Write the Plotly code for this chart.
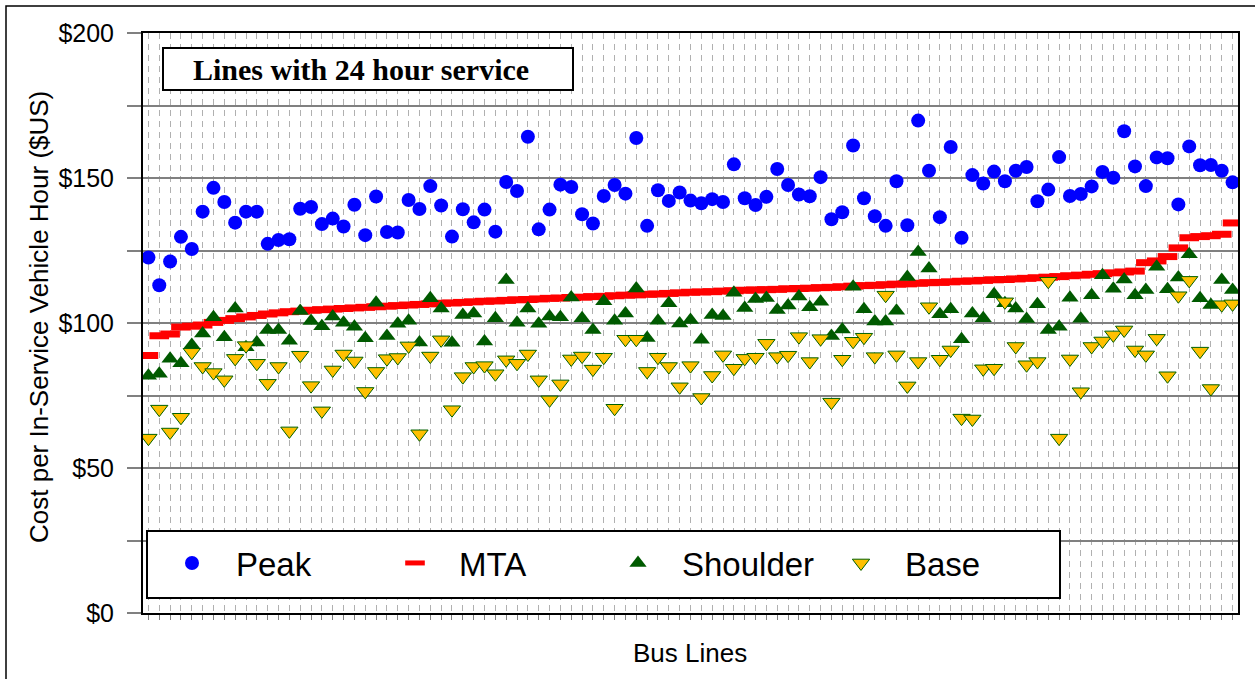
import plotly.graph_objects as go

# ---------------- data ----------------
bus_lines = list(range(1, 102))

peak = [
    122.6, 113.0, 121.2, 129.7, 125.5, 138.4, 146.6, 141.7, 134.6, 138.4,
    138.4, 127.3, 128.6, 128.9, 139.4, 140.0, 134.1, 136.0, 133.3, 140.8,
    130.3, 143.6, 131.4, 131.2, 142.4, 139.3, 147.2, 140.5, 129.8, 139.2,
    134.7, 139.1, 131.5, 148.6, 145.5, 164.2, 132.3, 139.1, 147.7, 146.9,
    137.5, 134.3, 143.8, 147.6, 144.6, 163.8, 133.5, 145.8, 142.1, 145.0,
    142.2, 141.3, 142.7, 141.7, 154.7, 143.0, 140.7, 143.5, 153.1, 147.6,
    144.3, 143.7, 150.3, 135.8, 138.2, 161.2, 143.0, 136.8, 133.5, 148.9,
    133.7, 169.8, 152.5, 136.5, 160.7, 129.4, 151.0, 148.1, 152.2, 148.9,
    152.5, 153.8, 142.0, 146.0, 157.2, 143.8, 144.5, 147.1, 152.1, 150.1,
    166.1, 154.0, 147.2, 157.1, 156.8, 140.9, 160.9, 154.4, 154.5, 152.5,
    148.5,
]

mta = [
    88.8, 95.6, 96.2, 98.6, 98.9, 99.3, 100.2, 100.9, 101.5, 102.1,
    102.6, 103.1, 103.5, 103.9, 104.1, 104.4, 104.6, 104.8, 105.0, 105.2,
    105.4, 105.6, 105.8, 106.0, 106.2, 106.4, 106.6, 106.8, 106.9, 107.1,
    107.3, 107.5, 107.6, 107.8, 108.0, 108.1, 108.3, 108.5, 108.6, 108.8,
    108.9, 109.1, 109.2, 109.4, 109.6, 109.7, 109.9, 110.0, 110.2, 110.4,
    110.6, 110.7, 110.8, 111.0, 111.1, 111.3, 111.4, 111.5, 111.6, 111.8,
    111.9, 112.0, 112.2, 112.3, 112.5, 112.7, 112.9, 113.0, 113.2, 113.4,
    113.5, 113.7, 113.9, 114.0, 114.2, 114.4, 114.5, 114.7, 114.9, 115.0,
    115.2, 115.4, 115.6, 115.8, 116.0, 116.3, 116.5, 116.8, 117.0, 117.3,
    117.6, 117.9, 120.8, 121.4, 122.9, 125.9, 129.4, 129.8, 130.1, 130.6,
    134.5,
]

shoulder = [
    81.8, 82.5, 87.7, 86.1, 92.4, 96.4, 102.0, 95.1, 105.0, 91.6,
    93.3, 97.6, 97.6, 93.9, 104.1, 100.7, 98.9, 102.2, 100.1, 98.7,
    94.7, 107.0, 95.5, 99.7, 100.8, 93.3, 108.5, 105.0, 93.2, 102.8,
    103.3, 93.6, 101.6, 114.8, 100.1, 105.0, 99.7, 102.2, 102.0, 108.8,
    101.6, 97.6, 107.5, 100.8, 103.3, 111.9, 94.8, 100.8, 106.8, 99.8,
    101.0, 94.2, 102.8, 102.4, 110.4, 105.2, 108.3, 108.6, 104.5, 106.0,
    109.1, 105.4, 107.3, 95.5, 97.8, 112.5, 104.7, 100.5, 100.5, 104.2,
    115.9, 124.5, 118.8, 103.0, 104.7, 94.4, 103.3, 101.6, 109.9, 106.8,
    105.0, 101.4, 106.5, 97.6, 98.7, 108.7, 101.5, 109.6, 116.5, 111.8,
    115.0, 109.6, 111.4, 119.4, 111.6, 115.7, 123.7, 108.5, 106.2, 114.8,
    111.4,
]

base = [
    60.3, 70.3, 62.4, 67.5, 89.9, 85.0, 82.9, 80.4, 87.8, 92.2,
    86.1, 79.2, 85.0, 62.8, 88.9, 78.4, 69.7, 83.8, 89.3, 86.9,
    76.4, 83.3, 87.7, 88.1, 92.1, 61.8, 88.6, 94.2, 70.1, 81.5,
    85.0, 85.3, 82.5, 87.3, 86.1, 89.3, 80.4, 73.5, 79.0, 87.6,
    88.6, 84.1, 88.2, 70.6, 94.4, 94.4, 83.3, 88.2, 85.0, 78.0,
    85.3, 74.3, 81.9, 89.0, 84.4, 87.8, 88.2, 93.0, 88.4, 88.9,
    95.3, 86.7, 94.6, 72.7, 87.5, 93.7, 95.1, 88.4, 109.6, 89.0,
    78.3, 86.7, 105.6, 87.5, 90.7, 67.2, 66.9, 84.2, 84.4, 107.3,
    91.9, 85.6, 86.7, 114.4, 60.3, 87.6, 76.3, 91.9, 93.8, 95.9,
    97.6, 90.7, 89.0, 94.7, 81.8, 109.4, 114.7, 90.3, 77.4, 106.3,
    106.6,
]

y_tick_values = [0, 25, 50, 75, 100, 125, 150, 175, 200]
y_tick_labels = ["$0", "", "$50", "", "$100", "", "$150", "", "$200"]

chart_title = "Lines with 24 hour service"
y_title = "Cost per In-Service Vehicle Hour ($US)"
x_title = "Bus Lines"

# ---------------- layout geometry ----------------
W, H = 1255, 679
L, R, T, B = 143, 1238, 33, 613


def px(xp):
    return (xp - L) / (R - L)


def py(yp):
    return (B - yp) / (B - T)


fig = go.Figure()
fig.add_trace(go.Scatter(
    x=bus_lines, y=peak, mode="markers", name="Peak",
    marker=dict(symbol="circle", size=14, color="#0000FF", line=dict(width=0))))
fig.add_trace(go.Scatter(
    x=bus_lines, y=mta, mode="markers", name="MTA",
    marker=dict(symbol="line-ew", size=14, color="#FF0000",
                line=dict(width=7, color="#FF0000"))))
fig.add_trace(go.Scatter(
    x=bus_lines, y=shoulder, mode="markers", name="Shoulder",
    marker=dict(symbol="triangle-up", size=15, color="#005A00", line=dict(width=0))))
fig.add_trace(go.Scatter(
    x=bus_lines, y=base, mode="markers", name="Base",
    marker=dict(symbol="triangle-down", size=15, color="#FFC000",
                line=dict(width=1, color="#006000"))))

fig.update_layout(
    width=W, height=H,
    margin=dict(l=L, r=W - R, t=T, b=H - B, pad=0),
    paper_bgcolor="white", plot_bgcolor="white",
    font=dict(family="Arial, 'Liberation Sans', sans-serif", color="black"),
    showlegend=True,
    legend=dict(
        orientation="h", x=px(148), xanchor="left", y=py(535), yanchor="top",
        bgcolor="rgba(0,0,0,0)", borderwidth=0,
        font=dict(size=33, family="Arial, 'Liberation Sans', sans-serif"),
        entrywidth=130, entrywidthmode="pixels", itemwidth=78,
        traceorder="normal", valign="middle",
    ),
)

fig.update_xaxes(
    range=[0.5, 101.5], tickmode="linear", tick0=1, dtick=1,
    showticklabels=False, ticks="outside", ticklen=5, tickwidth=1,
    tickcolor="#808080",
    showgrid=True, gridcolor="#b0b0b0", gridwidth=1, griddash="6px,5px",
    showline=True, linecolor="black", linewidth=2, mirror=True, zeroline=False,
)
fig.update_yaxes(
    range=[0, 200], tickmode="array", tickvals=y_tick_values, ticktext=y_tick_labels,
    ticks="outside", ticklen=14, tickwidth=2, tickcolor="#808080",
    tickfont=dict(size=25), ticklabelstandoff=8,
    showgrid=True, gridcolor="#808080", gridwidth=2,
    showline=True, linecolor="black", linewidth=2, mirror=True, zeroline=False,
)

# outer chart border (left/top visible, right/bottom cropped)
fig.add_shape(type="rect", xref="paper", yref="paper",
              x0=px(6), x1=px(1275), y0=py(700), y1=py(6),
              line=dict(color="black", width=1.5), fillcolor="rgba(0,0,0,0)",
              layer="above")

# legend box
fig.add_shape(type="rect", xref="paper", yref="paper",
              x0=px(147), x1=px(1060), y0=py(598), y1=py(531),
              line=dict(color="black", width=2), fillcolor="white", layer="above")

# title box
fig.add_shape(type="rect", xref="paper", yref="paper",
              x0=px(163), x1=px(573), y0=py(90), y1=py(48),
              line=dict(color="black", width=2), fillcolor="white", layer="above")
fig.add_annotation(xref="paper", yref="paper", x=px(191), y=py(69),
                   xanchor="left", yanchor="middle", showarrow=False,
                   text="<b>" + chart_title + "</b>",
                   font=dict(family="'Times New Roman', 'Liberation Serif', serif",
                             size=30, color="black"))

# axis titles
fig.add_annotation(xref="paper", yref="paper", x=px(39), y=py(317),
                   xanchor="center", yanchor="middle", showarrow=False,
                   textangle=-90, text=y_title, font=dict(size=26))
fig.add_annotation(xref="paper", yref="paper", x=px(690), y=py(653),
                   xanchor="center", yanchor="middle", showarrow=False,
                   text=x_title, font=dict(size=26))

fig.write_html(
    "out.html",
    config={"displayModeBar": False},
    post_script="document.body.style.margin='0px';document.body.style.overflow='hidden';",
)
